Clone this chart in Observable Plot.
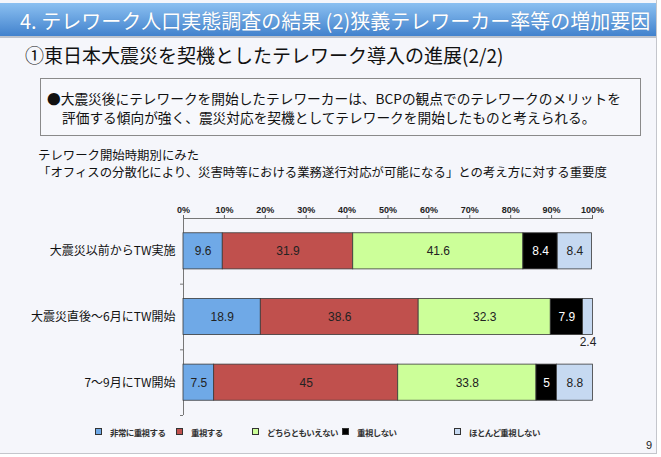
<!DOCTYPE html>
<html><head><meta charset="utf-8">
<script src="https://cdn.jsdelivr.net/npm/d3@7"></script>
<script src="https://cdn.jsdelivr.net/npm/@observablehq/plot@0.6"></script>
<style>
body{margin:0;width:661px;height:457px;background:#ffffff;position:relative;overflow:hidden;font-family:"Noto Sans CJK JP",sans-serif;}
#page{position:absolute;left:0;top:0;width:656px;height:453px;background:#f5f6fb;border-right:1px solid #c4c6cc;border-bottom:1px solid #c4c6cc;}
#hdr{position:absolute;left:0;top:3px;width:656px;height:35px;background:linear-gradient(#8bc0f1,#4282cd);border-bottom:2px solid #bcc2cc;color:#fff;font-size:20px;line-height:35px;padding-left:20px;box-sizing:border-box;white-space:nowrap;text-shadow:0 0 1px rgba(0,0,0,0.15);}
#sub{position:absolute;left:25px;top:42px;font-size:19px;line-height:26px;color:#111;white-space:nowrap;}
#box{position:absolute;left:40px;top:78px;width:601px;height:58px;border:1px solid #8a8a8a;background:#f7f8fc;box-sizing:border-box;}
.bl{position:absolute;font-size:13.7px;line-height:18px;color:#111;white-space:nowrap;}
#b1{left:47px;top:89px;}
#b2{left:62px;top:108px;}
.cap{position:absolute;left:38px;font-size:12.4px;line-height:16px;color:#111;white-space:nowrap;}
#c1{top:147px;}
#c2{top:164px;}
#chart{position:absolute;left:0;top:190px;}
#legend{position:absolute;left:0;top:425px;width:661px;height:16px;}
.li{position:absolute;top:0;font-size:8.5px;line-height:14px;font-weight:bold;color:#333;white-space:nowrap;letter-spacing:-0.6px;}
.li span{display:inline-block;width:5px;height:5px;border:1px solid #333;margin-right:8px;vertical-align:1px;}
.li:nth-child(1){left:95px;}
.li:nth-child(2){left:176px;}
.li:nth-child(3){left:252px;}
.li:nth-child(4){left:342px;}
.li:nth-child(5){left:454px;}
#pg{position:absolute;left:646px;top:439px;font-size:11px;color:#222;font-family:"Liberation Sans",sans-serif;}
</style>
</head><body>
<div id="page"></div>
<div id="hdr">4. テレワーク人口実態調査の結果 (2)狭義テレワーカー率等の増加要因</div>
<div id="sub">①東日本大震災を契機としたテレワーク導入の進展(2/2)</div>
<div id="box"></div>
<div class="bl" id="b1">●大震災後にテレワークを開始したテレワーカーは、BCPの観点でのテレワークのメリットを</div>
<div class="bl" id="b2">評価する傾向が強く、震災対応を契機としてテレワークを開始したものと考えられる。</div>
<div class="cap" id="c1">テレワーク開始時期別にみた</div>
<div class="cap" id="c2">「オフィスの分散化により、災害時等における業務遂行対応が可能になる」との考え方に対する重要度</div>
<div id="chart"></div>
<div id="legend"></div>
<div id="pg">9</div>
<script>
const categories = ["大震災以前からTW実施", "大震災直後～6月にTW開始", "7～9月にTW開始"];
const series = ["非常に重視する", "重視する", "どちらともいえない", "重視しない", "ほとんど重視しない"];
const colors = ["#6fa9e7", "#c0504d", "#ccff99", "#000000", "#c6d9f1"];
const row1 = [9.6, 31.9, 41.6, 8.4, 8.4];
const row2 = [18.9, 38.6, 32.3, 7.9, 2.4];
const row3 = [7.5, 45, 33.8, 5, 8.8];
const xTicks = [0, 10, 20, 30, 40, 50, 60, 70, 80, 90, 100];
const xTickLabels = ["0%", "10%", "20%", "30%", "40%", "50%", "60%", "70%", "80%", "90%", "100%"];

const values = [row1, row2, row3];
const rows = [];
categories.forEach((c, i) => {
  let acc = 0;
  series.forEach((s, j) => {
    const v = values[i][j];
    rows.push({cat: c, i, series: s, value: v, x1: acc, x2: acc + v});
    acc += v;
  });
});

const num = "'Liberation Sans Narrow','Liberation Sans',sans-serif";
const plot = Plot.plot({
  width: 661, height: 237,
  marginTop: 28, marginBottom: 12, marginLeft: 183, marginRight: 69,
  x: {domain: [0, 100], axis: null, label: null},
  y: {domain: [-0.5, 2.5], reverse: true, axis: null, label: null},
  color: {domain: series, range: colors},
  style: {background: "transparent", overflow: "visible", fontFamily: "'Noto Sans CJK JP',sans-serif", color: "#222"},
  marks: [
    Plot.axisX({anchor: "top", ticks: xTicks, tickFormat: (d, k) => xTickLabels[k], tickSize: 4, tickPadding: 2, fontSize: 9, fontWeight: "bold", fontFamily: num, stroke: "#666", label: null}),
    Plot.ruleY([-0.5], {stroke: "#777"}),
    Plot.ruleX([0], {stroke: "#777"}),
    Plot.axisY({ticks: [0.5, 1.5, 2.5], tickSize: 3, tickFormat: () => "", stroke: "#777", label: null}),
    Plot.rect(rows, {x1: "x1", x2: "x2", y1: d => d.i - 0.275, y2: d => d.i + 0.275, fill: "series", stroke: "#3a3a3a", strokeWidth: 0.8}),
    Plot.text(rows, {filter: d => d.value >= 3, x: d => (d.x1 + d.x2) / 2, y: "i", text: d => String(d.value), fill: d => d.series === "重視しない" ? "#ffffff" : "#222", fontSize: 12, fontFamily: num}),
    Plot.text(rows, {filter: d => d.value < 3, x: d => (d.x1 + d.x2) / 2, y: "i", dy: 25, text: d => String(d.value), fill: "#222", fontSize: 12, fontFamily: num}),
    Plot.text(categories, {x: 0, y: (d, i) => i, text: d => d, textAnchor: "end", dx: -8, fontSize: 12, fill: "#111"})
  ]
});
document.getElementById("chart").appendChild(plot);

const lg = document.getElementById("legend");
series.forEach((s, j) => {
  const d = document.createElement("div");
  d.className = "li";
  const sw = document.createElement("span");
  sw.style.background = colors[j];
  d.appendChild(sw);
  d.appendChild(document.createTextNode(s));
  lg.appendChild(d);
});
</script>
</body></html>
